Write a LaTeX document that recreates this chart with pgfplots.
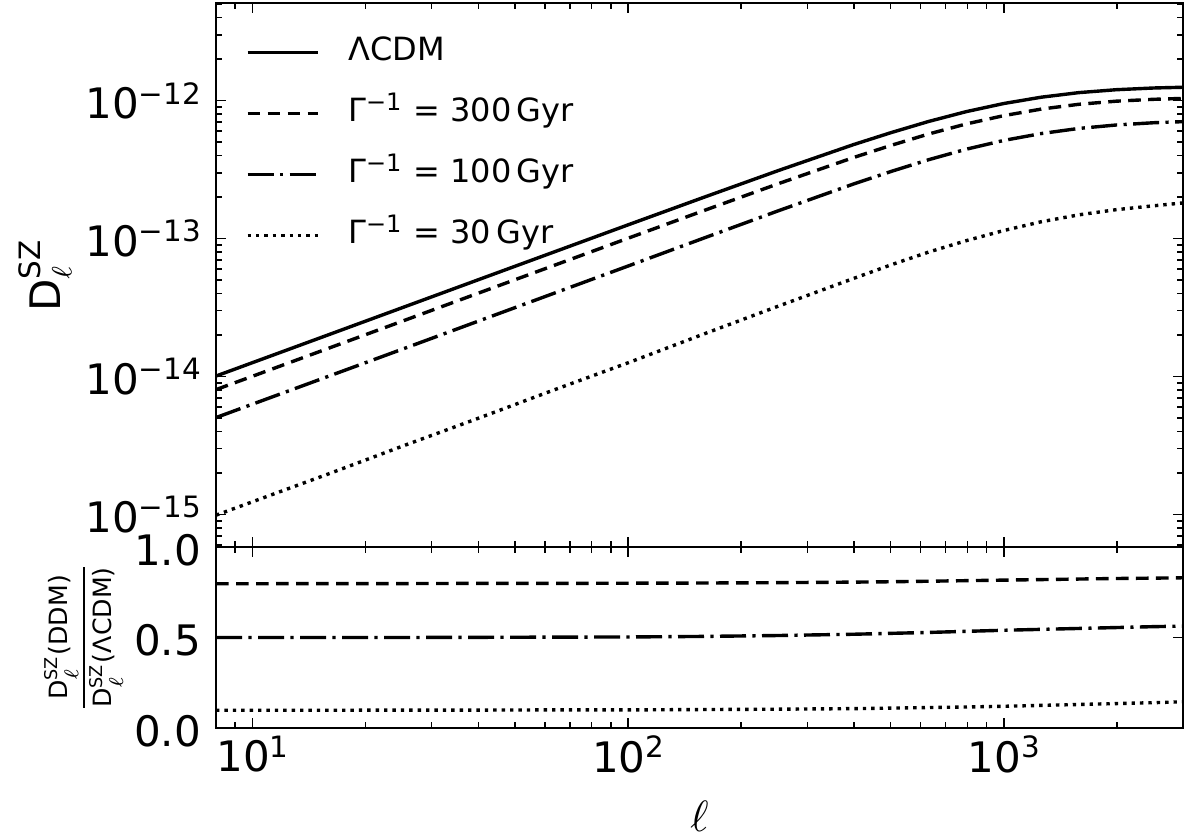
\documentclass[border=0pt]{standalone}
\usepackage{fontspec}
\setmainfont{DejaVu Sans}
\usepackage{pgfplots}
\pgfplotsset{compat=1.18}
\newcommand\pw[1]{10\raisebox{3.6pt}{\fontsize{7.35}{8}\selectfont #1}}
\newcommand\Dsz[1]{\mbox{D}^{\mbox{\fontsize{4.4}{5}\selectfont SZ}}_{\ell}\mbox{(#1)}}
\tikzset{
  lcdm/.style={black, line width=0.85pt},
  g300/.style={black, line width=0.85pt, dash pattern=on 3.15pt off 1.85pt},
  g100/.style={black, line width=0.85pt, dash pattern=on 6.5pt off 1.6pt on 0.8pt off 1.6pt},
  g30/.style={black, line width=0.85pt, dash pattern=on 0.85pt off 1.25pt},
}
\begin{document}
\begin{tikzpicture}
\path[use as bounding box] (-54pt,-27.25pt) rectangle (246pt,182pt);
% ---------------- bottom panel: ratio ----------------
\begin{axis}[
  xmode=log,
  scale only axis, width=241.75pt, height=45.25pt,
  at={(0pt,0pt)}, anchor=south west,
  xmin=8, xmax=3000, ymin=0, ymax=1,
  tick align=inside, xtick pos=both, ytick pos=both,
  major tick length=2.6pt, minor tick length=1.5pt,
  every tick/.style={black, line width=0.4pt},
  axis line style={line width=0.6pt},
  xtick={10,100,1000},
  minor xtick={8,9,20,30,40,50,60,70,80,90,200,300,400,500,600,700,800,900,2000,3000},
  xticklabels={\pw{1},\pw{2},\pw{3}},
  ytick={0,0.5,1}, yticklabels={0.0,0.5,1.0},
  tick label style={font=\fontsize{10.5}{12}\selectfont},
  xticklabel style={inner sep=0pt, yshift=-1.75pt},
  yticklabel style={inner sep=0pt, xshift=-3.6pt, yshift=-0.7pt},
  label style={font=\fontsize{10.5}{12}\selectfont},
  xlabel={$\ell$},
  xlabel style={at={(axis description cs:0.5,0)}, anchor=north, inner sep=0pt, yshift=-18pt},
  ylabel={\fontsize{6.3}{7}\selectfont$\displaystyle\frac{\Dsz{DDM}}{\Dsz{ΛCDM}}$},
  ylabel style={at={(axis description cs:-0.1365,0.5)}, anchor=center, inner sep=0pt},
]
\addplot[g300] coordinates {(8,0.797) (10,0.797) (15.85,0.798) (25.12,0.798) (39.81,0.799) (63.1,0.799) (100,0.800) (158.5,0.801) (251.2,0.803) (398.1,0.806) (501.2,0.808) (631,0.811) (794.3,0.814) (1000,0.817) (1259,0.820) (1585,0.823) (1995,0.826) (2512,0.828) (3000,0.830)};
\addplot[g100] coordinates {(8,0.500) (10,0.500) (15.85,0.500) (25.12,0.500) (39.81,0.501) (63.1,0.502) (100,0.503) (158.5,0.506) (251.2,0.511) (398.1,0.518) (501.2,0.523) (631,0.528) (794.3,0.534) (1000,0.540) (1259,0.545) (1585,0.550) (1995,0.555) (2512,0.560) (3000,0.563)};
\addplot[g30] coordinates {(8,0.098) (10,0.098) (15.85,0.098) (25.12,0.099) (39.81,0.099) (63.1,0.100) (100,0.100) (158.5,0.102) (251.2,0.104) (398.1,0.107) (501.2,0.110) (631,0.113) (794.3,0.116) (1000,0.120) (1259,0.125) (1585,0.130) (1995,0.135) (2512,0.140) (3000,0.145)};
\end{axis}
% ---------------- top panel: spectra ----------------
\begin{axis}[
  xmode=log, ymode=log,
  scale only axis, width=241.75pt, height=136pt,
  at={(0pt,45.25pt)}, anchor=south west,
  xmin=8, xmax=3000, ymin=5.8e-16, ymax=5.1e-12,
  tick align=inside, xtick pos=both, ytick pos=both,
  major tick length=2.6pt, minor tick length=1.5pt,
  every tick/.style={black, line width=0.4pt},
  axis line style={line width=0.6pt},
  xtick={10,100,1000},
  minor xtick={8,9,20,30,40,50,60,70,80,90,200,300,400,500,600,700,800,900,2000,3000},
  xticklabels={},
  ytick={1e-15,1e-14,1e-13,1e-12},
  yticklabels={\pw{−15},\pw{−14},\pw{−13},\pw{−12}},
  minor ytick={6e-16,7e-16,8e-16,9e-16,2e-15,3e-15,4e-15,5e-15,6e-15,7e-15,8e-15,9e-15,2e-14,3e-14,4e-14,5e-14,6e-14,7e-14,8e-14,9e-14,2e-13,3e-13,4e-13,5e-13,6e-13,7e-13,8e-13,9e-13,2e-12,3e-12,4e-12,5e-12},
  tick label style={font=\fontsize{10.5}{12}\selectfont},
  yticklabel style={inner sep=0pt, xshift=-3.6pt},
  label style={font=\fontsize{10.5}{12}\selectfont},
  ylabel={$\mbox{D}^{\mbox{\fontsize{7.35}{8}\selectfont SZ}}_{\ell}$},
  ylabel style={at={(axis description cs:-0.1768,0.5)}, anchor=center, inner sep=0pt},
  legend image code/.code={\draw[#1] (0pt,0pt) -- (17.5pt,0pt);},
  legend style={at={(rel axis cs:0,1)}, anchor=north west, xshift=7.25pt, yshift=-8.15pt,
    draw=none, fill=none, inner sep=0pt, row sep=7.25pt, column sep=7.25pt,
    font=\fontsize{8}{9.6}\selectfont, cells={anchor=west},
    nodes={inner sep=0pt, text height=6pt, text depth=2pt}},
]
\addplot[lcdm] coordinates {(8,1.007e-14) (10,1.259e-14) (15.85,1.995e-14) (25.12,3.162e-14) (39.81,5.012e-14) (63.1,7.94e-14) (100,1.257e-13) (158.5,1.984e-13) (251.2,3.112e-13) (398.1,4.797e-13) (501.2,5.861e-13) (631,7.063e-13) (794.3,8.318e-13) (1000,9.528e-13) (1259,1.059e-12) (1585,1.143e-12) (1995,1.200e-12) (2512,1.235e-12) (3000,1.250e-12)};
\addlegendentry{ΛCDM}
\addplot[g300] coordinates {(8,8.03e-15) (10,1.003e-14) (15.85,1.592e-14) (25.12,2.523e-14) (39.81,4.005e-14) (63.1,6.344e-14) (100,1.0053e-13) (158.5,1.589e-13) (251.2,2.499e-13) (398.1,3.866e-13) (501.2,4.736e-13) (631,5.728e-13) (794.3,6.771e-13) (1000,7.784e-13) (1259,8.684e-13) (1585,9.407e-13) (1995,9.91e-13) (2512,1.0226e-12) (3000,1.0375e-12)};
\addlegendentry{Γ\textsuperscript{−1} = 300\,Gyr}
\addplot[g100] coordinates {(8,5.035e-15) (10,6.295e-15) (15.85,9.975e-15) (25.12,1.581e-14) (39.81,2.511e-14) (63.1,3.986e-14) (100,6.321e-14) (158.5,1.004e-13) (251.2,1.590e-13) (398.1,2.485e-13) (501.2,3.065e-13) (631,3.729e-13) (794.3,4.442e-13) (1000,5.145e-13) (1259,5.772e-13) (1585,6.287e-13) (1995,6.66e-13) (2512,6.916e-13) (3000,7.04e-13)};
\addlegendentry{Γ\textsuperscript{−1} = 100\,Gyr}
\addplot[g30] coordinates {(8,9.87e-16) (10,1.234e-15) (15.85,1.955e-15) (25.12,3.130e-15) (39.81,4.962e-15) (63.1,7.94e-15) (100,1.2566e-14) (158.5,2.024e-14) (251.2,3.236e-14) (398.1,5.133e-14) (501.2,6.447e-14) (631,7.981e-14) (794.3,9.649e-14) (1000,1.1434e-13) (1259,1.324e-13) (1585,1.486e-13) (1995,1.62e-13) (2512,1.729e-13) (3000,1.8125e-13)};
\addlegendentry{Γ\textsuperscript{−1} = 30\,Gyr}
\end{axis}
\end{tikzpicture}
\end{document}
